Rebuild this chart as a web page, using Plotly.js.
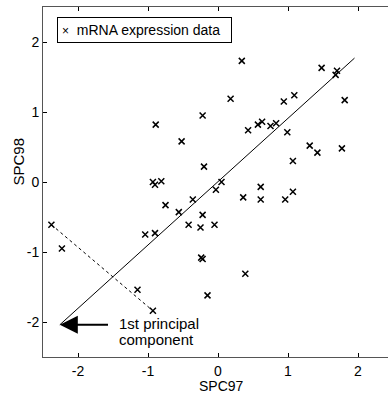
<!DOCTYPE html>
<html>
<head>
<meta charset="utf-8">
<script src="https://cdn.plot.ly/plotly-3.0.1.min.js"></script>
<style>
html,body{margin:0;padding:0;overflow:hidden;background:#fff;}
#chart{width:400px;height:394px;}
</style>
</head>
<body>
<div id="chart"></div>
<script>
// mRNA expression data (SPC97 vs SPC98)
var spc97 = [0.34, 1.48, 1.70, 1.68, 0.18, 1.09, 0.94, 1.81, -0.22, 0.43,
             0.57, 0.63, 0.75, 0.83, 0.99, -0.89, -0.52, -0.20, -0.93, -0.90,
             -0.81, -0.03, -0.75, -0.36, -0.56, -0.22, -0.42, -0.25, -0.05, -2.38,
             -1.04, -0.90, -2.23, -0.24, -0.22, 1.31, 1.42, 1.77, 1.07, 0.05,
             0.61, 1.07, 0.36, 0.61, 0.96, -1.15, -0.93, 0.39, -0.15];
var spc98 = [1.73, 1.63, 1.59, 1.53, 1.19, 1.24, 1.15, 1.17, 0.95, 0.74,
             0.82, 0.86, 0.80, 0.84, 0.71, 0.82, 0.58, 0.22, 0.00, -0.04,
             0.01, -0.11, -0.33, -0.25, -0.43, -0.47, -0.61, -0.65, -0.61, -0.61,
             -0.75, -0.73, -0.95, -1.08, -1.10, 0.52, 0.42, 0.48, 0.30, 0.00,
             -0.07, -0.14, -0.22, -0.25, -0.25, -1.54, -1.84, -1.31, -1.62];
// first principal component line
var pcX = [-2.26, 1.95];
var pcY = [-2.04, 1.77];
// points joined by the dashed line
var dashIdx = [29, 46];
var tickVals = [-2, -1, 0, 1, 2];
var tickText = ['-2', '-1', '0', '1', '2'];
var seriesName = 'mRNA expression data';
var xTitle = 'SPC97';
var yTitle = 'SPC98';
var noteLines = ['1st principal', 'component'];

var FONT = 'Liberation Sans, Arial, sans-serif';

var traces = [
  {
    x: dashIdx.map(function(i){return spc97[i];}),
    y: dashIdx.map(function(i){return spc98[i];}),
    mode: 'lines', showlegend: false, hoverinfo: 'skip',
    line: {color: '#000', width: 1, dash: '3px,3px'}
  },
  {
    x: pcX, y: pcY, mode: 'lines', showlegend: false, hoverinfo: 'skip',
    line: {color: '#000', width: 1}
  },
  {
    x: spc97, y: spc98, mode: 'markers', name: seriesName, showlegend: false,
    marker: {symbol: 'x-thin', size: 6, color: '#000', line: {color: '#000', width: 1.5}}
  }
];

var axisCommon = {
  showgrid: false, zeroline: false, showline: true, linecolor: '#555', linewidth: 1,
  mirror: 'ticks', ticks: 'inside', ticklen: 4, tickcolor: '#000', tickwidth: 1,
  tickvals: tickVals, ticktext: tickText,
  tickfont: {family: FONT, size: 14, color: '#000'},
  fixedrange: true
};

var titleFont = {family: FONT, size: 15, color: '#000'};

var layout = {
  width: 400, height: 394,
  margin: {l: 43, r: 7, t: 7, b: 37},
  paper_bgcolor: '#fff', plot_bgcolor: '#fff',
  font: {family: FONT, size: 14, color: '#000'},
  xaxis: Object.assign({}, axisCommon, {range: [-2.5, 2.5], ticklabelstandoff: 1}),
  yaxis: Object.assign({}, axisCommon, {range: [-2.5, 2.5]}),
  showlegend: false,
  annotations: [
    // legend box
    {xref: 'paper', yref: 'paper', x: 0.039, y: 0.972, xanchor: 'left', yanchor: 'top',
     text: '<span style="font-size:12px">×</span>&nbsp;&nbsp;' + seriesName,
     showarrow: false, align: 'left', width: 165, borderpad: 4,
     bordercolor: '#000', borderwidth: 1, bgcolor: '#fff',
     font: {family: FONT, size: 14, color: '#000'}},
    // x axis title
    {xref: 'paper', yref: 'paper', x: 0.51, y: -0.0826, xanchor: 'center', yanchor: 'middle',
     text: xTitle, showarrow: false, font: {family: FONT, size: 14, color: '#000'}},
    // y axis title
    {xref: 'paper', yref: 'paper', x: -0.07, y: 0.56, xanchor: 'center', yanchor: 'middle',
     text: yTitle, textangle: -90, showarrow: false, font: titleFont},
    // arrow to the first principal component
    {x: pcX[0], y: pcY[0], ax: -1.55, ay: pcY[0], xref: 'x', yref: 'y', axref: 'x', ayref: 'y',
     text: '', showarrow: true, arrowhead: 2, arrowsize: 1.8, arrowwidth: 2, arrowcolor: '#000'},
    {x: -1.44, y: -2.02, xref: 'x', yref: 'y', text: noteLines[0], showarrow: false,
     xanchor: 'left', yanchor: 'middle', font: titleFont},
    {x: -1.44, y: -2.25, xref: 'x', yref: 'y', text: noteLines[1], showarrow: false,
     xanchor: 'left', yanchor: 'middle', font: titleFont}
  ]
};

Plotly.newPlot('chart', traces, layout, {staticPlot: true, displayModeBar: false});
</script>
</body>
</html>
